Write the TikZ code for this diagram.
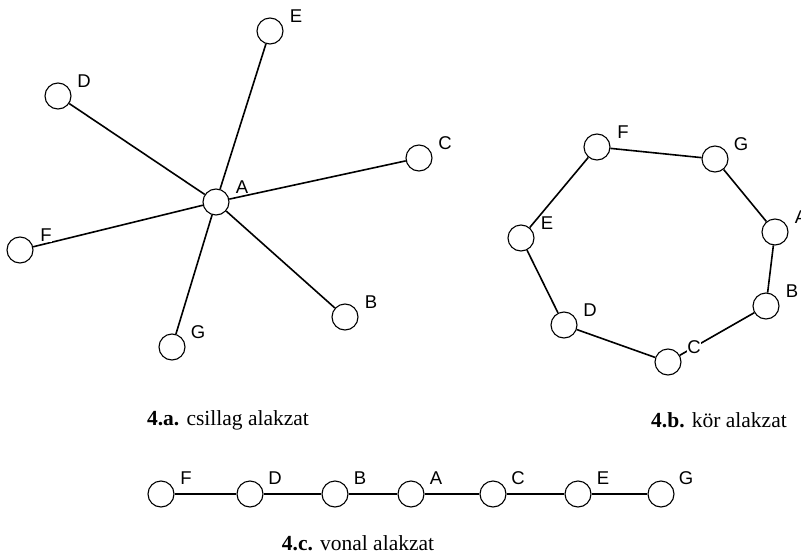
\documentclass[tikz,border=0pt]{standalone}
\usepackage{fontspec}
\setmainfont{Liberation Serif}
\setsansfont{Liberation Sans}
\usetikzlibrary{positioning}

\tikzset{
  vertex/.style={draw,circle,fill=white,line width=1.1pt,minimum size=26pt,inner sep=0pt},
  vlabel/.style={fill=white,inner sep=0.8pt,font=\sffamily\fontsize{18.5}{19}\selectfont},
  edge/.style={line width=1.6pt},
  caption/.style={font=\fontsize{21.5}{24}\selectfont}
}

\begin{document}
\begin{tikzpicture}[x=1pt,y=-1pt]
  \clip (0,0) rectangle (801,557);

  % 4.a star
  \foreach \n/\px/\py in {A/216/202,E/270/31,D/58/96,C/419/158,F/20/250,B/345/317,G/172/347}
    \node[vertex] (s\n) at (\px,\py) {};
  \foreach \n in {E,D,C,F,B,G}
    \draw[edge] (sA) -- (s\n);
  \foreach \n in {A,B,C,D,E,F,G}
    \node[vlabel] (s\n-lbl) at ([shift={(26,-15)}]s\n.center) {\n};

  % 4.b ring
  \foreach \n/\px/\py in {F/597/147,G/715/159,A/775/232,B/766/306,C/668/362,D/564/325,E/521/238}
    \node[vertex] (r\n) at (\px,\py) {};
  \foreach \a/\b in {F/G,G/A,A/B,B/C,C/D,D/E,E/F}
    \draw[edge] (r\a) -- (r\b);
  \foreach \n in {A,B,C,D,E,F,G}
    \node[vlabel] (r\n-lbl) at ([shift={(26,-15)}]r\n.center) {\n};

  % 4.c line
  \foreach \n/\px in {F/161,D/250,B/335,A/411,C/493,E/578,G/661}
    \node[vertex] (l\n) at (\px,494) {};
  \foreach \a/\b in {F/D,D/B,B/A,A/C,C/E,E/G}
    \draw[edge] (l\a) -- (l\b);
  \foreach \n in {A,B,C,D,E,F,G}
    \node[vlabel] (l\n-lbl) at ([shift={(25,-16)}]l\n.center) {\n};

  % captions
  \node[caption] (capa) at (228,420) {\textbf{4.a.} csillag alakzat};
  \node[caption] (capb) at (719,420) {\textbf{4.b.} kör alakzat};
  \node[caption] (capc) at (358,543) {\textbf{4.c.} vonal alakzat};
\end{tikzpicture}
\end{document}
